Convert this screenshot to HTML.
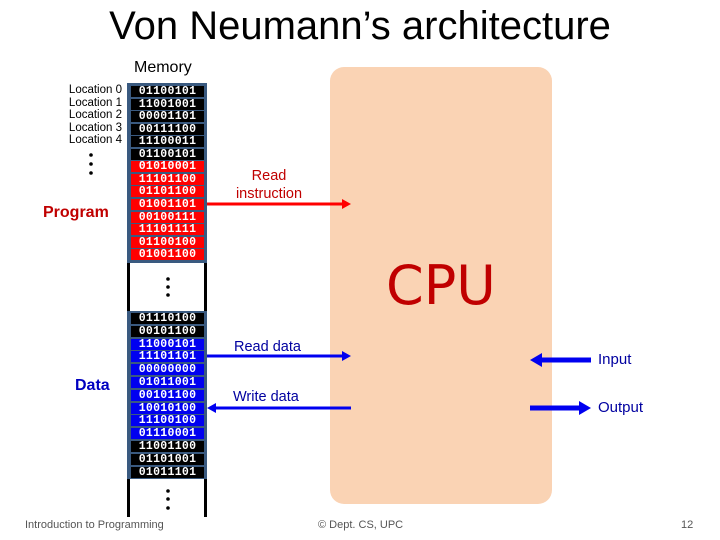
<!DOCTYPE html>
<html><head><meta charset="utf-8"><style>
body{margin:0;width:720px;height:540px;background:#fff;position:relative;overflow:hidden;font-family:"Liberation Sans",sans-serif}
.a{position:absolute}
.row{position:absolute;left:131px;width:73px;height:11px;font-family:"Liberation Mono",monospace;font-weight:bold;font-size:11.5px;line-height:11px;color:#fff;text-align:center;letter-spacing:0.3px}
.k{background:#000}.r{background:#f00}.b{background:#0000f0}
.loc{position:absolute;right:598px;font-size:11.5px;line-height:12.5px;color:#000;text-align:right}
</style></head><body>
<div class="a" style="left:0;width:720px;top:4px;text-align:center;font-size:40px;color:#000">Von Neumann’s architecture</div>
<div class="a" style="left:134px;top:59px;font-size:16px">Memory</div>
<div class="loc" style="top:84px">Location 0<br>Location 1<br>Location 2<br>Location 3<br>Location 4</div>
<div class="a" style="left:43px;top:204px;font-size:16px;font-weight:bold;color:#c00000">Program</div>
<div class="a" style="left:75px;top:377px;font-size:16px;font-weight:bold;color:#0000c0">Data</div>
<div class="a" style="left:330px;top:67px;width:222px;height:437px;background:#fad3b4;border-radius:14px"></div>
<div class="a" style="left:386px;top:254px;font-size:54px;color:#c00000;font-family:'DejaVu Sans',sans-serif">CPU</div>
<div class="a" style="left:127px;top:83px;width:80px;height:180px;background:#3a5a80"></div>
<div class="a" style="left:127px;top:311px;width:80px;height:168px;background:#3a5a80"></div>
<div class="a" style="left:127px;top:263px;width:3px;height:48px;background:#000"></div>
<div class="a" style="left:204px;top:263px;width:3px;height:48px;background:#000"></div>
<div class="a" style="left:127px;top:479px;width:3px;height:38px;background:#000"></div>
<div class="a" style="left:204px;top:479px;width:3px;height:38px;background:#000"></div>
<div id="rows"></div>
<svg class="a" style="left:0;top:0" width="720" height="540">
<g fill="#000"><circle cx="91" cy="155" r="1.8"/><circle cx="91" cy="164" r="1.8"/><circle cx="91" cy="173" r="1.8"/>
<circle cx="168" cy="279" r="1.8"/><circle cx="168" cy="287" r="1.8"/><circle cx="168" cy="295" r="1.8"/>
<circle cx="168" cy="491" r="1.8"/><circle cx="168" cy="499" r="1.8"/><circle cx="168" cy="508" r="1.8"/></g>
<line x1="207" y1="204" x2="342" y2="204" stroke="#f00" stroke-width="3"/><polygon points="342,199 351,204 342,209" fill="#f00"/>
<line x1="207" y1="356" x2="342" y2="356" stroke="#0000f0" stroke-width="3"/><polygon points="342,351 351,356 342,361" fill="#0000f0"/>
<line x1="216" y1="408" x2="351" y2="408" stroke="#0000f0" stroke-width="3"/><polygon points="216,403 207,408 216,413" fill="#0000f0"/>
<line x1="540" y1="360" x2="591" y2="360" stroke="#0000f0" stroke-width="5"/><polygon points="542,353 530,360 542,367" fill="#0000f0"/>
<line x1="530" y1="408" x2="580" y2="408" stroke="#0000f0" stroke-width="5"/><polygon points="579,401 591,408 579,415" fill="#0000f0"/>
</svg>
<div class="a" style="left:226px;top:167px;width:86px;text-align:center;font-size:14.5px;line-height:18px;color:#c00000">Read<br>instruction</div>
<div class="a" style="left:234px;top:339px;font-size:14.5px;color:#0000a0">Read data</div>
<div class="a" style="left:233px;top:389px;font-size:14.5px;color:#0000a0">Write data</div>
<div class="a" style="left:598px;top:351px;font-size:15px;color:#0000a0">Input</div>
<div class="a" style="left:598px;top:399px;font-size:15px;color:#0000a0">Output</div>
<div class="a" style="left:25px;top:519px;font-size:11px;color:#555">Introduction to Programming</div>
<div class="a" style="left:318px;top:519px;font-size:11px;color:#555">© Dept. CS, UPC</div>
<div class="a" style="left:681px;top:519px;font-size:11px;color:#555">12</div>
<script>
var t=[["01100101","k"],["11001001","k"],["00001101","k"],["00111100","k"],["11100011","k"],["01100101","k"],["01010001","r"],["11101100","r"],["01101100","r"],["01001101","r"],["00100111","r"],["11101111","r"],["01100100","r"],["01001100","r"]];
var d=[["01110100","k"],["00101100","k"],["11000101","b"],["11101101","b"],["00000000","b"],["01011001","b"],["00101100","b"],["10010100","b"],["11100100","b"],["01110001","b"],["11001100","k"],["01101001","k"],["01011101","k"]];
var h="";
t.forEach(function(x,i){h+='<div class="row '+x[1]+'" style="top:'+(86+i*12.55).toFixed(1)+'px">'+x[0]+'</div>'});
d.forEach(function(x,i){h+='<div class="row '+x[1]+'" style="top:'+(313+i*12.8).toFixed(1)+'px">'+x[0]+'</div>'});
document.getElementById("rows").innerHTML=h;
</script>
</body></html>
